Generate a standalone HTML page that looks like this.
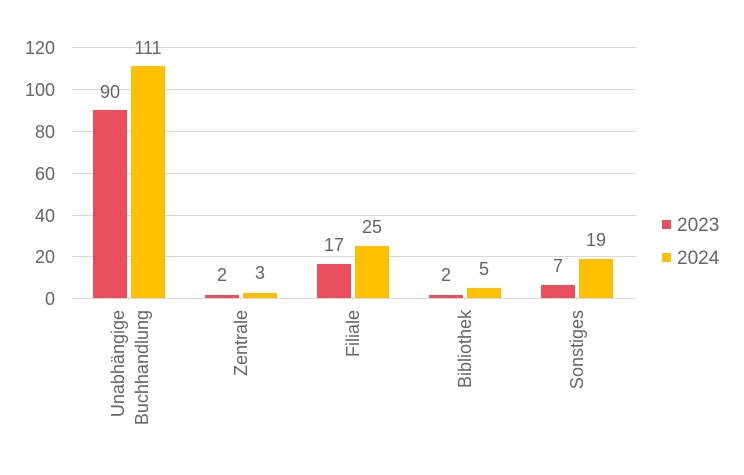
<!DOCTYPE html>
<html><head><meta charset="utf-8"><style>
body{margin:0;background:#fff;}
svg text{font-family:"Liberation Sans",Arial,sans-serif;fill:#666;}
</style></head><body>
<svg width="744" height="470" xmlns="http://www.w3.org/2000/svg">
<g stroke="#d9d9d9" stroke-width="1">
<line x1="72" y1="47.5" x2="636" y2="47.5"/>
<line x1="72" y1="89.5" x2="636" y2="89.5"/>
<line x1="72" y1="131.5" x2="636" y2="131.5"/>
<line x1="72" y1="173.5" x2="636" y2="173.5"/>
<line x1="72" y1="215.5" x2="636" y2="215.5"/>
<line x1="72" y1="256.5" x2="636" y2="256.5"/>
<line x1="72" y1="298.5" x2="636" y2="298.5"/>
</g>
<g font-size="18" text-anchor="end">
<text x="55" y="54">120</text><text x="55" y="96">100</text><text x="55" y="138">80</text>
<text x="55" y="180">60</text><text x="55" y="222">40</text><text x="55" y="263">20</text><text x="55" y="305">0</text>
</g>
<g fill="#eb4f5e">
<rect x="93" y="110" width="34" height="188"/>
<rect x="205" y="295" width="34" height="3"/>
<rect x="317" y="264" width="34" height="34"/>
<rect x="429" y="295" width="34" height="3"/>
<rect x="541" y="285" width="34" height="13"/>
</g>
<g fill="#ffc000">
<rect x="131" y="66" width="34" height="232"/>
<rect x="243" y="293" width="34" height="5"/>
<rect x="355" y="246" width="34" height="52"/>
<rect x="467" y="288" width="34" height="10"/>
<rect x="579" y="259" width="34" height="39"/>
</g>
<g font-size="18" text-anchor="middle">
<text x="110" y="98">90</text><text x="148" y="54">111</text>
<text x="222" y="281">2</text><text x="260" y="279">3</text>
<text x="334" y="251">17</text><text x="372" y="233">25</text>
<text x="446" y="281">2</text><text x="484" y="275">5</text>
<text x="558" y="272">7</text><text x="596" y="246">19</text>
</g>
<g font-size="18" text-anchor="end">
<text transform="translate(124,310) rotate(-90)">Unabhängige</text>
<text transform="translate(148,310) rotate(-90)">Buchhandlung</text>
<text transform="translate(247,310) rotate(-90)">Zentrale</text>
<text transform="translate(359,310) rotate(-90)">Filiale</text>
<text transform="translate(471,310) rotate(-90)">Bibliothek</text>
<text transform="translate(583,310) rotate(-90)">Sonstiges</text>
</g>
<rect x="662" y="220" width="9" height="9" fill="#eb4f5e"/>
<rect x="662" y="253" width="9" height="9" fill="#ffc000"/>
<g font-size="19"><text x="677" y="231">2023</text><text x="677" y="264">2024</text></g>
</svg>
</body></html>
